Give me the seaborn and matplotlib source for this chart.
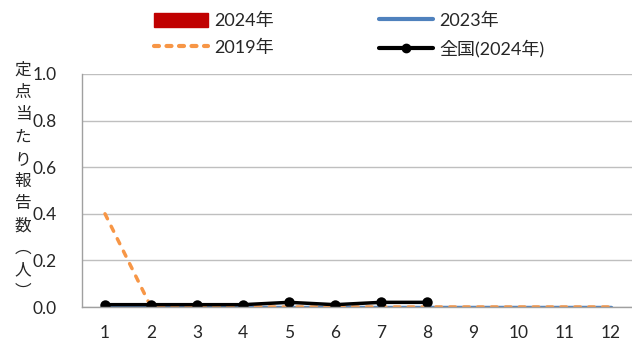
import matplotlib
matplotlib.use("Agg")
import matplotlib.pyplot as plt
import seaborn as sns
import pandas as pd
from matplotlib.patches import Patch
from matplotlib.lines import Line2D

months = ["1", "2", "3", "4", "5", "6", "7", "8", "9", "10", "11", "12"]
v2024 = [0.0, 0.0, 0.0, 0.0, 0.0, 0.0, 0.0, 0.0, None, None, None, None]
v2023 = [0.0, 0.0, 0.0, 0.0, 0.0, 0.0, 0.0, 0.0, 0.0, 0.0, 0.0, 0.0]
v2019 = [0.4, 0.0, 0.0, 0.0, 0.0, 0.0, 0.0, 0.0, 0.0, 0.0, 0.0, 0.0]
national = [0.01, 0.01, 0.01, 0.01, 0.02, 0.01, 0.02, 0.02, None, None, None, None]
yticks = [0.0, 0.2, 0.4, 0.6, 0.8, 1.0]

sns.set_theme(style="white")
plt.rcParams["font.family"] = ["Lato", "Noto Sans CJK JP", "DejaVu Sans"]

c_bar = "#C00000"
c_2023 = "#4F81BD"
c_2019 = "#F79646"
c_nat = "#000000"

df = pd.DataFrame({"month": months, "pos": range(12),
                   "v2024": v2024, "v2023": v2023, "v2019": v2019, "nat": national})

fig = plt.figure(figsize=(6.32, 3.43), dpi=100)
ax = fig.add_axes([82 / 632, 1 - 307 / 343, 552 / 632, 233 / 343])

sns.barplot(data=df, x="month", y="v2024", color=c_bar, width=0.6, ax=ax, saturation=1)
sns.lineplot(data=df, x="pos", y="v2023", color=c_2023, linewidth=2.5, ax=ax)
sns.lineplot(data=df, x="pos", y="v2019", color=c_2019, linewidth=2.5, ax=ax)
ax.lines[-1].set_dashes([1.6, 2.4])
ax.lines[-1].set_dash_capstyle("round")
dn = df.dropna(subset=["nat"])
sns.lineplot(data=dn, x="pos", y="nat", color=c_nat, linewidth=2.5, marker="o",
             markersize=7.5, markeredgewidth=0, ax=ax)

ax.set_xlim(-0.5, 11.5)
ax.set_ylim(0, 1.0)
ax.set_yticks(yticks)
ax.set_yticklabels([f"{t:.1f}" for t in yticks], fontsize=12.5)
ax.set_xticks(range(12))
ax.set_xticklabels(months, fontsize=12.5)
ax.set_xticks([i - 0.5 for i in range(13)], minor=True)
ax.tick_params(axis="x", which="major", length=0, pad=13)
ax.tick_params(axis="x", which="minor", length=5, color="#A0A0A0", width=1, direction="out")
ax.tick_params(axis="y", length=0, pad=18, left=True)
ax.set_xlabel("")
ax.set_ylabel("")
ax.grid(axis="y", color="#BFBFBF", linewidth=1)
ax.set_axisbelow(True)
for s in ["top", "right"]:
    ax.spines[s].set_visible(False)
for s in ["left", "bottom"]:
    ax.spines[s].set_color("#A0A0A0")
    ax.spines[s].set_linewidth(1)

fig.text(23 / 632, 1 - 62 / 343, "定\n点\n当\nた\nり\n報\n告\n数\n︵\n人\n︶",
         fontsize=12, ha="center", va="top", linespacing=1.40,
         family=["Noto Sans CJK JP", "DejaVu Sans"])

handles = [
    Patch(facecolor=c_bar, edgecolor=c_bar),
    Line2D([], [], color=c_2019, linewidth=3, dashes=[1.2, 1.8], dash_capstyle="round"),
    Line2D([], [], color=c_2023, linewidth=3, solid_capstyle="round"),
    Line2D([], [], color=c_nat, linewidth=3, marker="o", markersize=6),
]
labels = ["2024年", "2019年", "2023年", "全国(2024年)"]
leg = fig.legend(handles, labels, ncol=2, loc="upper left", bbox_to_anchor=(138 / 632, 1.01),
                 frameon=False, fontsize=13, handlelength=3.0, handleheight=0.8,
                 columnspacing=5.8, labelspacing=0.58, handletextpad=0.33)

fig.savefig("out.png", dpi=100)
